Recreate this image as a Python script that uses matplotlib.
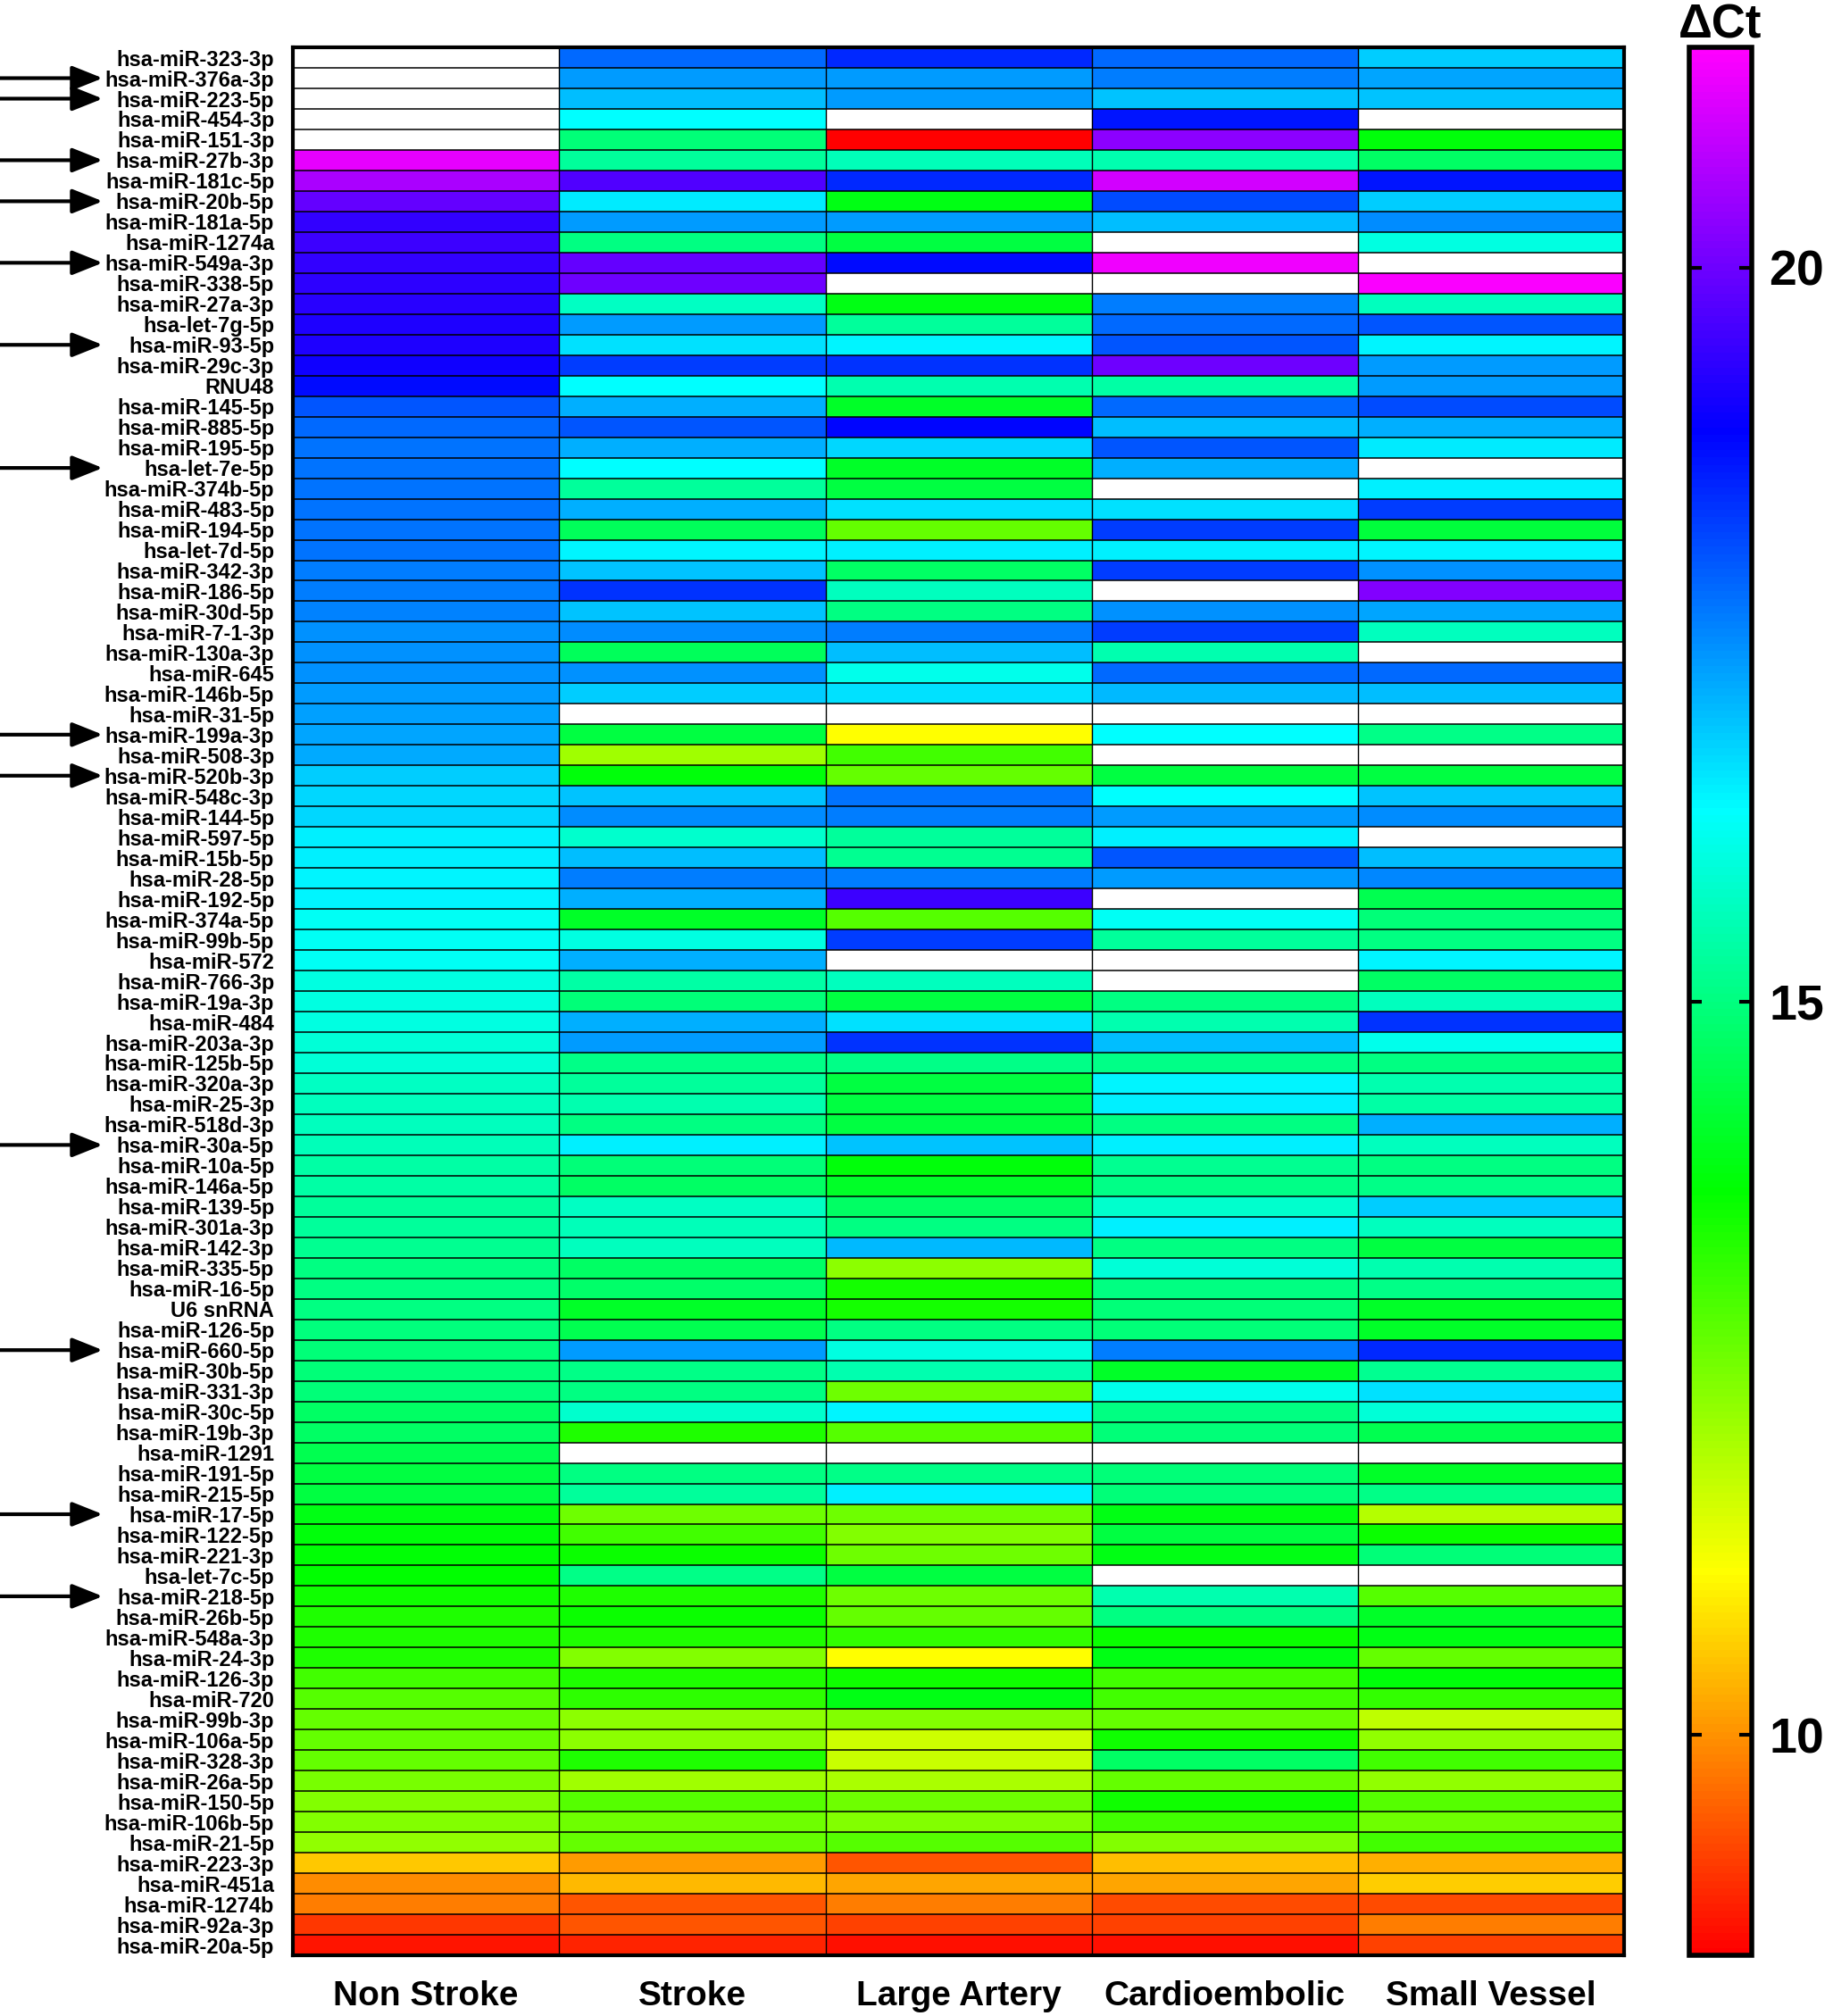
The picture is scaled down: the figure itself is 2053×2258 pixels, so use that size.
import numpy as np
import matplotlib
matplotlib.use('Agg')
import matplotlib.pyplot as plt
from matplotlib.colors import ListedColormap, hsv_to_rgb

plt.rcParams['font.family'] = ['Liberation Sans', 'DejaVu Sans']
plt.rcParams['font.weight'] = 'bold'

nan = np.nan

mirnas = [
    'hsa-miR-323-3p', 'hsa-miR-376a-3p', 'hsa-miR-223-5p', 'hsa-miR-454-3p',
    'hsa-miR-151-3p', 'hsa-miR-27b-3p', 'hsa-miR-181c-5p', 'hsa-miR-20b-5p',
    'hsa-miR-181a-5p', 'hsa-miR-1274a', 'hsa-miR-549a-3p', 'hsa-miR-338-5p',
    'hsa-miR-27a-3p', 'hsa-let-7g-5p', 'hsa-miR-93-5p', 'hsa-miR-29c-3p',
    'RNU48', 'hsa-miR-145-5p', 'hsa-miR-885-5p', 'hsa-miR-195-5p',
    'hsa-let-7e-5p', 'hsa-miR-374b-5p', 'hsa-miR-483-5p', 'hsa-miR-194-5p',
    'hsa-let-7d-5p', 'hsa-miR-342-3p', 'hsa-miR-186-5p', 'hsa-miR-30d-5p',
    'hsa-miR-7-1-3p', 'hsa-miR-130a-3p', 'hsa-miR-645', 'hsa-miR-146b-5p',
    'hsa-miR-31-5p', 'hsa-miR-199a-3p', 'hsa-miR-508-3p', 'hsa-miR-520b-3p',
    'hsa-miR-548c-3p', 'hsa-miR-144-5p', 'hsa-miR-597-5p', 'hsa-miR-15b-5p',
    'hsa-miR-28-5p', 'hsa-miR-192-5p', 'hsa-miR-374a-5p', 'hsa-miR-99b-5p',
    'hsa-miR-572', 'hsa-miR-766-3p', 'hsa-miR-19a-3p', 'hsa-miR-484',
    'hsa-miR-203a-3p', 'hsa-miR-125b-5p', 'hsa-miR-320a-3p', 'hsa-miR-25-3p',
    'hsa-miR-518d-3p', 'hsa-miR-30a-5p', 'hsa-miR-10a-5p', 'hsa-miR-146a-5p',
    'hsa-miR-139-5p', 'hsa-miR-301a-3p', 'hsa-miR-142-3p', 'hsa-miR-335-5p',
    'hsa-miR-16-5p', 'U6 snRNA', 'hsa-miR-126-5p', 'hsa-miR-660-5p',
    'hsa-miR-30b-5p', 'hsa-miR-331-3p', 'hsa-miR-30c-5p', 'hsa-miR-19b-3p',
    'hsa-miR-1291', 'hsa-miR-191-5p', 'hsa-miR-215-5p', 'hsa-miR-17-5p',
    'hsa-miR-122-5p', 'hsa-miR-221-3p', 'hsa-let-7c-5p', 'hsa-miR-218-5p',
    'hsa-miR-26b-5p', 'hsa-miR-548a-3p', 'hsa-miR-24-3p', 'hsa-miR-126-3p',
    'hsa-miR-720', 'hsa-miR-99b-3p', 'hsa-miR-106a-5p', 'hsa-miR-328-3p',
    'hsa-miR-26a-5p', 'hsa-miR-150-5p', 'hsa-miR-106b-5p', 'hsa-miR-21-5p',
    'hsa-miR-223-3p', 'hsa-miR-451a', 'hsa-miR-1274b', 'hsa-miR-92a-3p',
    'hsa-miR-20a-5p',
]

groups = ['Non Stroke', 'Stroke', 'Large Artery', 'Cardioembolic', 'Small Vessel']

# delta Ct per group, nan = not detected (white cell)
non_stroke = [
    nan, nan, nan, nan, nan, 21.2, 20.6, 19.9, 19.4, 19.5, 19.4, 19.35,
    19.3, 19.2, 19.2, 19.05, 18.8, 18.0, 17.8, 17.7, 17.7, 17.7, 17.7, 17.7,
    17.7, 17.6, 17.6, 17.55, 17.4, 17.4, 17.4, 17.3, 17.25, 17.2, 17.15, 16.8,
    16.7, 16.7, 16.45, 16.45, 16.4, 16.4, 16.2, 16.2, 16.2, 16.0, 16.0, 16.0,
    15.9, 15.9, 15.7, 15.65, 15.65, 15.6, 15.4, 15.4, 15.3, 15.3, 15.2, 15.05,
    15.05, 15.0, 14.95, 14.9, 14.9, 14.9, 14.7, 14.7, 14.5, 14.35, 14.35, 13.9,
    13.8, 13.75, 13.7, 13.55, 13.4, 13.4, 13.4, 13.05, 12.85, 12.7, 12.7, 12.7,
    12.5, 12.4, 12.4, 12.25, 10.55, 9.95, 9.8, 9.1, 8.75,
]
stroke = [
    17.8, 17.3, 16.95, 16.3, 14.9, 15.3, 19.7, 16.5, 17.3, 15.0, 19.9, 20.0,
    15.7, 17.3, 16.6, 18.25, 16.3, 17.1, 18.0, 17.1, 16.3, 15.3, 17.1, 14.6,
    16.4, 16.9, 18.4, 16.9, 17.45, 14.6, 17.4, 16.8, nan, 14.35, 12.1, 13.8,
    16.9, 17.45, 15.8, 16.95, 17.6, 17.1, 14.1, 16.0, 17.1, 15.4, 14.9, 17.1,
    17.3, 15.1, 15.3, 15.5, 15.0, 16.45, 14.9, 14.7, 15.7, 15.6, 15.65, 14.7,
    14.75, 14.1, 14.5, 17.3, 15.1, 15.05, 15.8, 13.4, nan, 15.0, 15.3, 12.6,
    13.05, 13.6, 15.1, 13.4, 13.6, 13.4, 12.4, 13.4, 13.25, 12.3, 12.3, 13.4,
    12.1, 12.85, 12.6, 12.7, 10.1, 10.4, 9.4, 9.4, 8.9,
]
large_artery = [
    18.5, 17.3, 17.3, nan, 8.5, 15.6, 18.5, 13.9, 17.3, 14.35, 18.8, nan,
    13.9, 15.3, 16.4, 18.4, 15.5, 14.1, 18.85, 16.7, 14.1, 14.35, 16.6, 12.7,
    16.45, 14.7, 15.65, 15.0, 17.6, 16.95, 16.1, 16.6, nan, 11.1, 13.05, 12.7,
    17.7, 17.6, 15.3, 15.2, 17.6, 19.5, 12.85, 18.25, nan, 15.65, 14.35, 16.6,
    18.4, 15.1, 14.35, 14.35, 14.35, 16.9, 13.8, 14.1, 14.7, 15.0, 17.0, 12.3,
    13.5, 13.5, 15.0, 16.0, 15.5, 12.6, 16.4, 12.85, nan, 15.1, 16.45, 12.6,
    12.4, 12.6, 14.35, 12.6, 12.7, 13.2, 11.1, 13.55, 13.9, 12.4, 11.6, 11.65,
    12.0, 12.6, 12.4, 12.85, 9.4, 10.2, 9.8, 9.2, 8.7,
]
cardioembolic = [
    17.8, 17.6, 16.9, 18.7, 20.3, 15.5, 21.0, 18.1, 16.95, nan, 21.3, nan,
    17.6, 17.8, 18.0, 20.0, 15.4, 17.8, 16.95, 18.0, 17.1, nan, 16.6, 18.25,
    16.45, 18.25, nan, 17.4, 18.25, 15.5, 17.8, 17.0, nan, 16.3, nan, 14.35,
    16.3, 17.3, 16.45, 18.0, 17.3, nan, 16.2, 15.3, nan, nan, 15.0, 15.5,
    16.95, 15.1, 16.4, 16.45, 15.0, 16.45, 15.2, 15.1, 15.8, 16.45, 15.05, 15.9,
    15.0, 14.9, 14.9, 17.6, 14.1, 16.1, 15.0, 14.9, nan, 14.9, 14.9, 13.9,
    14.35, 13.9, nan, 15.5, 15.0, 13.6, 13.9, 13.05, 13.05, 12.7, 13.55, 14.7,
    12.7, 13.55, 13.05, 12.4, 10.45, 10.2, 9.3, 9.2, 8.7,
]
small_vessel = [
    16.8, 17.2, 16.9, nan, 13.8, 14.7, 18.7, 16.8, 17.45, 16.0, nan, 21.4,
    15.65, 18.0, 16.4, 17.3, 17.3, 18.1, 17.1, 16.5, nan, 16.45, 18.25, 14.3,
    16.4, 17.4, 20.2, 17.2, 15.65, nan, 17.8, 16.95, nan, 15.1, nan, 14.35,
    16.9, 17.45, nan, 16.95, 17.5, 14.5, 14.9, 15.0, 16.4, 14.7, 15.65, 18.4,
    16.1, 15.05, 15.5, 15.4, 17.1, 15.65, 15.0, 15.1, 16.8, 15.65, 14.35, 15.5,
    15.1, 14.1, 14.1, 18.5, 15.2, 16.6, 15.9, 14.5, nan, 14.1, 15.1, 11.9,
    13.6, 14.9, nan, 12.85, 14.1, 13.9, 12.7, 13.8, 13.2, 11.8, 12.25, 13.05,
    12.25, 12.85, 12.6, 13.05, 10.3, 10.6, 9.3, 9.8, 9.2,
]

arrow_mirnas = [
    'hsa-miR-376a-3p', 'hsa-miR-223-5p', 'hsa-miR-27b-3p', 'hsa-miR-20b-5p',
    'hsa-miR-549a-3p', 'hsa-miR-93-5p', 'hsa-let-7e-5p', 'hsa-miR-199a-3p',
    'hsa-miR-520b-3p', 'hsa-miR-30a-5p', 'hsa-miR-660-5p', 'hsa-miR-17-5p',
    'hsa-miR-218-5p',
]

data = np.column_stack([non_stroke, stroke, large_artery, cardioembolic, small_vessel])
masked = np.ma.masked_invalid(data)
n_rows, n_cols = data.shape

# rainbow: hue red -> magenta
hues = np.linspace(0, 5 / 6, 256)
cmap = ListedColormap(hsv_to_rgb(np.stack([hues, np.ones(256), np.ones(256)], axis=1)))
cmap.set_bad('white')

fig = plt.figure(figsize=(20.53, 22.58), dpi=100)
ax = fig.add_axes([0.1598, 0.0301, 0.7263, 0.9464])
mesh = ax.pcolormesh(masked, cmap=cmap, vmin=8.5, vmax=21.5)
ax.set_xlim(0, n_cols)
ax.set_ylim(n_rows, 0)
ax.hlines(np.arange(n_rows + 1), 0, n_cols, color='black', lw=1.1)
ax.vlines(np.arange(n_cols + 1), 0, n_rows, color='black', lw=1.0)

ax.set_yticks(np.arange(n_rows) + 0.5, mirnas, fontsize=17, fontweight='bold')
ax.set_xticks(np.arange(n_cols) + 0.5, groups, fontsize=28, fontweight='bold')
ax.tick_params(length=0)
ax.tick_params(axis='y', pad=15)
ax.tick_params(axis='x', pad=20)
for s in ax.spines.values():
    s.set_linewidth(3)

# arrows marking selected miRNAs
for name in arrow_mirnas:
    i = mirnas.index(name) + 0.5
    ax.annotate('', xy=(115 / 2053, i), xycoords=('figure fraction', 'data'),
                xytext=(0, i), textcoords=('figure fraction', 'data'),
                arrowprops=dict(arrowstyle='-|>,head_length=0.55,head_width=0.22',
                                lw=3, color='black', mutation_scale=38,
                                shrinkA=0, shrinkB=0),
                annotation_clip=False)

cax = fig.add_axes([0.9216, 0.0301, 0.0341, 0.9464])
cb = fig.colorbar(mesh, cax=cax, ticks=[10, 15, 20])
cb.outline.set_linewidth(4)
cax.tick_params(direction='in', left=True, right=True, length=10, width=3,
                labelsize=40, pad=14)
cax.set_title('ΔCt', fontsize=38, fontweight='bold', pad=6)

fig.savefig('out.png', dpi=100)
